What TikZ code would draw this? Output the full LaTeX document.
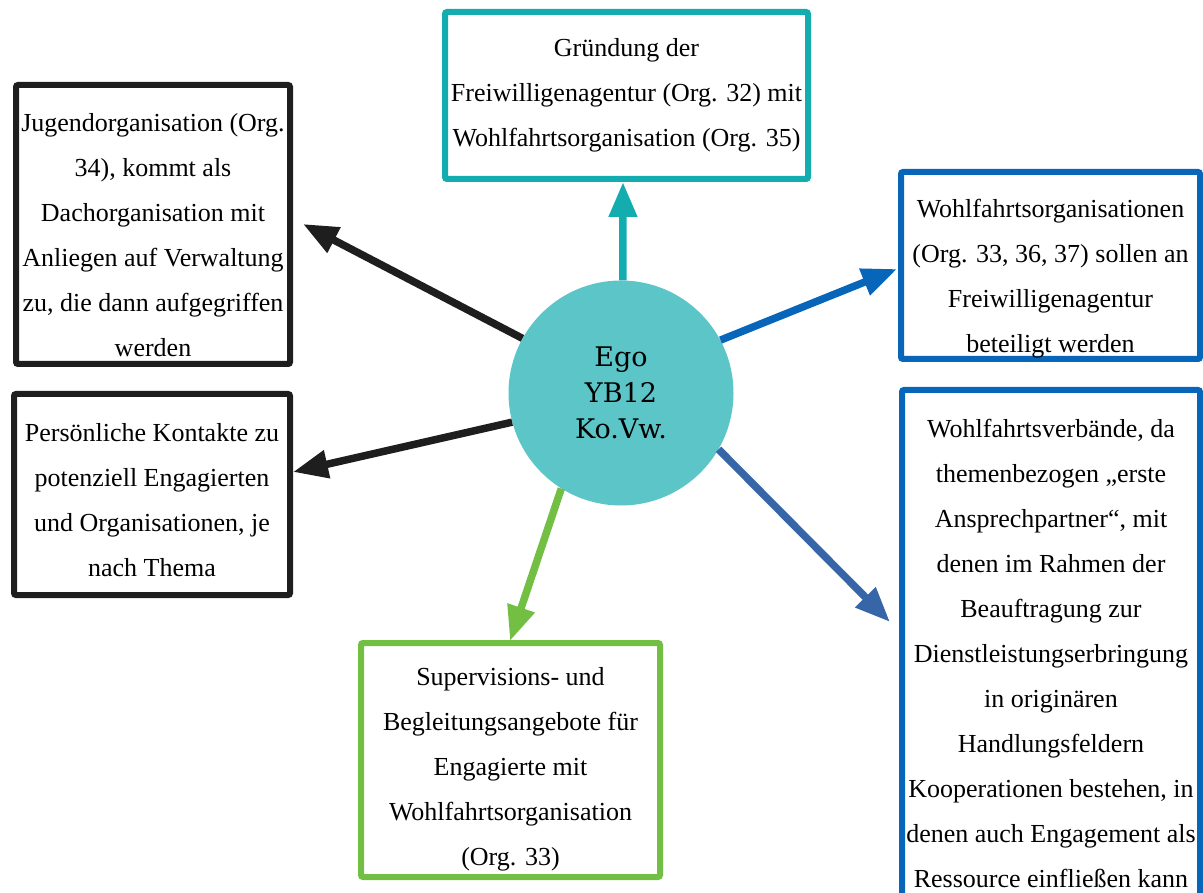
\documentclass[tikz,border=0pt]{standalone}
\usepackage{fontspec}
\setmainfont{Liberation Serif}
\newfontfamily\egofont{DejaVu Serif}
\usetikzlibrary{arrows.meta}
\definecolor{cteal}{HTML}{13ADAF}
\definecolor{cego}{HTML}{5BC5C8}
\definecolor{cblack}{HTML}{1E1E1E}
\definecolor{cblue}{HTML}{0766BA}
\definecolor{cslate}{HTML}{3766A8}
\definecolor{cgreen}{HTML}{72BF44}
\newcommand\dn[1]{\rule{0pt}{#1}}
\begin{document}
\begin{tikzpicture}[x=1pt,y=-1pt,
  box/.style={draw, line width=6pt, rounded corners=2pt, fill=white, inner sep=0pt,
    align=center, font=\fontsize{26}{45}\selectfont},
  link/.style={line width=7.5pt, -{Triangle[length=35pt,width=27pt]}},
]
\useasboundingbox (0,0) rectangle (1203,893);

\node[circle, fill=cego, minimum size=225pt, inner sep=0pt, align=center,
  font=\egofont\fontsize{27}{36}\selectfont] (ego) at (621,393) {Ego\\YB12\\Ko.Vw.};

\node[box, draw=cteal, minimum width=363pt, minimum height=167pt] (top) at (626.5,95.5)
  {Gründung der\\Freiwilligenagentur (Org. 32) mit\\Wohlfahrtsorganisation (Org. 35)};

\node[box, draw=cblack, minimum width=274pt, minimum height=279pt] (lt) at (153,224.5)
  {\dn{39pt}Jugendorganisation (Org.\\34), kommt als\\Dachorganisation mit\\Anliegen auf Verwaltung\\zu, die dann aufgegriffen\\werden};

\node[box, draw=cblack, minimum width=276pt, minimum height=201pt] (lb) at (152,494.5)
  {\dn{29pt}Persönliche Kontakte zu\\potenziell Engagierten\\und Organisationen, je\\nach Thema};

\node[box, draw=cblue, minimum width=299pt, minimum height=187pt] (rt) at (1050.5,265.5)
  {\dn{44pt}Wohlfahrtsorganisationen\\(Org. 33, 36, 37) sollen an\\Freiwilligenagentur\\beteiligt werden};

\node[box, draw=cblue, minimum width=298pt, minimum height=526pt] (rb) at (1051,653)
  {Wohlfahrtsverbände, da\\themenbezogen „erste\\Ansprechpartner“, mit\\denen im Rahmen der\\Beauftragung zur\\Dienstleistungserbringung\\in originären\\Handlungsfeldern\\Kooperationen bestehen, in\\denen auch Engagement als\\Ressource einfließen kann};

\node[box, draw=cgreen, minimum width=299pt, minimum height=234pt] (gr) at (510.5,760)
  {\dn{36pt}Supervisions- und\\Begleitungsangebote für\\Engagierte mit\\Wohlfahrtsorganisation\\(Org. 33)};

\coordinate (tTop) at (622.96,182);
\coordinate (tLT) at (303,224);
\coordinate (tLB) at (293,472);
\coordinate (tG) at (510,641);
\coordinate (tRT) at (897,269);
\coordinate (tRB) at (890,622);

\draw[link, cteal] (ego.89) -- (tTop);
\draw[link, cblack] (ego.151) -- (tLT);
\draw[link, cblack] (ego.195) -- (tLB);
\draw[link, cgreen] (ego.238) -- (tG);
\draw[link, cblue] (ego.28) -- (tRT);
\draw[link, cslate] (ego.-30) -- (tRB);
\end{tikzpicture}
\end{document}
